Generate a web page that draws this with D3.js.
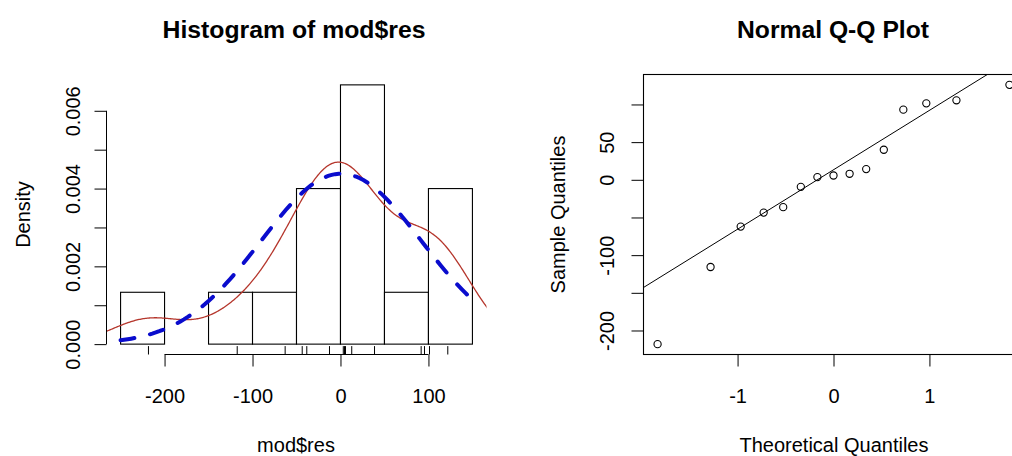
<!DOCTYPE html>
<html>
<head>
<meta charset="utf-8">
<script src="https://cdn.jsdelivr.net/npm/d3@7"></script>
<style>
body { margin: 0; background: #fff; }
svg text { font-family: "Liberation Sans", Arial, sans-serif; fill: #000; }
</style>
</head>
<body>
<svg id="chart" width="1012" height="456"></svg>
<script>
// residuals (sorted)
var residuals = [-218.1, -115.7, -62.1, -43.5, -36.3, -9.3, 3.6, 5.7, 8.0, 14.2, 39.9, 93.1, 101.5, 105.5, 126.0];
// rug marks as they sit under the histogram (jittered copy)
var rugValues = [-218.3, -117.4, -62.9, -43.5, -38.3, -12.5, 3.2, 4.6, 5.7, 12.8, 38.7, 91.7, 95.5, 101.2, 122.0];
var breaks = [-250, -200, -150, -100, -50, 0, 50, 100, 150];
var histXTicks = [-200, -100, 0, 100];
var histYTicks = [0, 0.001, 0.002, 0.003, 0.004, 0.005, 0.006];
var histYLabels = [0, 0.002, 0.004, 0.006];
var qqXTicks = [-1, 0, 1];
var qqYTicks = [-200, -150, -100, -50, 0, 50, 100];
var qqYLabels = [-200, -100, 0, 50];

var svg = d3.select('#chart');
var n = residuals.length;

// plot regions (R style, 4% extension)
var p1 = {left: 106.5, right: 486.5, top: 74.5, bottom: 354.5};
var p2 = {left: 643.5, right: 1023.5, top: 74.5, bottom: 354.5};
function extend(lo, hi) { var d = (hi - lo) * 0.04; return [lo - d, hi + d]; }

// inverse normal cdf (Acklam)
function qnorm(p) {
	var a = [-3.969683028665376e+01, 2.209460984245205e+02, -2.759285104469687e+02, 1.383577518672690e+02, -3.066479806614716e+01, 2.506628277459239e+00];
	var b = [-5.447609879822406e+01, 1.615858368580409e+02, -1.556989798598866e+02, 6.680131188771972e+01, -1.328068155288572e+01];
	var c = [-7.784894002430293e-03, -3.223964580411365e-01, -2.400758277161838e+00, -2.549732539343734e+00, 4.374664141464968e+00, 2.938163982698783e+00];
	var d = [7.784695709041462e-03, 3.224671290700398e-01, 2.445134137142996e+00, 3.754408661907416e+00];
	var pl = 0.02425, q, r;
	if (p < pl) {
		q = Math.sqrt(-2 * Math.log(p));
		return (((((c[0]*q+c[1])*q+c[2])*q+c[3])*q+c[4])*q+c[5]) / ((((d[0]*q+d[1])*q+d[2])*q+d[3])*q+1);
	}
	if (p > 1 - pl) {
		q = Math.sqrt(-2 * Math.log(1 - p));
		return -(((((c[0]*q+c[1])*q+c[2])*q+c[3])*q+c[4])*q+c[5]) / ((((d[0]*q+d[1])*q+d[2])*q+d[3])*q+1);
	}
	q = p - 0.5; r = q * q;
	return (((((a[0]*r+a[1])*r+a[2])*r+a[3])*r+a[4])*r+a[5])*q / (((((b[0]*r+b[1])*r+b[2])*r+b[3])*r+b[4])*r+1);
}
function gauss(z) { return Math.exp(-0.5 * z * z) / Math.sqrt(2 * Math.PI); }

//----------- Histogram ------------------------------------

// right-closed bins like R
var bins = [];
for (var i = 0; i < breaks.length - 1; i++) {
	var lo = breaks[i], hi = breaks[i + 1];
	var cnt = residuals.filter(function(v) { return v > lo && v <= hi; }).length;
	bins.push({x0: lo, x1: hi, density: cnt / (n * (hi - lo))});
}
var maxDens = d3.max(bins, function(d) { return d.density; });

var x1 = d3.scaleLinear().domain(extend(breaks[0], breaks[breaks.length - 1])).range([p1.left, p1.right]);
var y1 = d3.scaleLinear().domain(extend(0, maxDens)).range([p1.bottom, p1.top]);

svg.append('clipPath').attr('id', 'clip1')
	.append('rect').attr('x', p1.left).attr('y', p1.top)
	.attr('width', p1.right - p1.left).attr('height', p1.bottom - p1.top);

svg.append('g').selectAll('rect')
	.data(bins)
	.enter().append('rect')
	.attr('x', function(d) { return x1(d.x0); })
	.attr('y', function(d) { return y1(d.density); })
	.attr('width', function(d) { return x1(d.x1) - x1(d.x0); })
	.attr('height', function(d) { return y1(0) - y1(d.density); })
	.attr('fill', '#fff')
	.attr('stroke', '#000')
	.attr('stroke-width', 1.1);

// kernel density (bw.nrd0)
var mean = d3.mean(residuals), sd = d3.deviation(residuals);
var iqr = d3.quantile(residuals, 0.75) - d3.quantile(residuals, 0.25);
var bw = 0.9 * Math.min(sd, iqr / 1.34) * Math.pow(n, -0.2);
var kLo = d3.min(residuals) - 3 * bw, kHi = d3.max(residuals) + 3 * bw;
var kde = d3.range(512).map(function(k) {
	var x = kLo + (kHi - kLo) * k / 511;
	var s = d3.sum(residuals, function(v) { return gauss((x - v) / bw); });
	return [x, s / (n * bw)];
});

// normal curve over the breaks range
var normCurve = d3.range(101).map(function(k) {
	var x = breaks[0] + (breaks[breaks.length - 1] - breaks[0]) * k / 100;
	return [x, gauss((x - mean) / sd) / sd];
});

var line1 = d3.line()
	.x(function(d) { return x1(d[0]); })
	.y(function(d) { return y1(d[1]); });

var curves = svg.append('g').attr('clip-path', 'url(#clip1)');
curves.append('path')
	.attr('d', line1(kde))
	.attr('fill', 'none')
	.attr('stroke', '#b5362c')
	.attr('stroke-width', 1.3);
curves.append('path')
	.attr('d', line1(normCurve))
	.attr('fill', 'none')
	.attr('stroke', '#0a0ccd')
	.attr('stroke-width', 4)
	.attr('stroke-linecap', 'round')
	.attr('stroke-dasharray', '14,16');

// rug
svg.append('g').selectAll('line')
	.data(rugValues)
	.enter().append('line')
	.attr('x1', function(d) { return x1(d); })
	.attr('x2', function(d) { return x1(d); })
	.attr('y1', p1.bottom)
	.attr('y2', p1.bottom - 0.03 * (p1.bottom - p1.top))
	.attr('stroke', '#000')
	.attr('stroke-width', 1);

// axes
var xAxis1 = svg.append('g')
	.attr('transform', 'translate(0,' + p1.bottom + ')')
	.call(d3.axisBottom(x1).tickValues(histXTicks).tickSize(12).tickFormat(function(d) { return String(d); }));
xAxis1.select('.domain').remove();
xAxis1.append('line').attr('x1', x1(histXTicks[0])).attr('x2', x1(histXTicks[histXTicks.length - 1]))
	.attr('stroke', '#000');
xAxis1.selectAll('.tick text').attr('y', 48.5).attr('dy', null).style('font-size', '20px');

var yAxis1 = svg.append('g')
	.attr('transform', 'translate(' + p1.left + ',0)')
	.call(d3.axisLeft(y1).tickValues(histYTicks).tickSize(12)
		.tickFormat(function(d) { return histYLabels.indexOf(d) >= 0 ? d3.format('.3f')(d) : ''; }));
yAxis1.select('.domain').remove();
yAxis1.append('line').attr('y1', y1(histYTicks[0])).attr('y2', y1(histYTicks[histYTicks.length - 1]))
	.attr('stroke', '#000');
yAxis1.selectAll('.tick text')
	.attr('x', 0).attr('y', 0).attr('dy', null)
	.attr('text-anchor', 'middle')
	.attr('transform', 'translate(-27,0) rotate(-90)')
	.style('font-size', '20px');

// titles and labels
svg.append('text')
	.attr('x', 294).attr('y', 38)
	.attr('text-anchor', 'middle')
	.attr('textLength', 263).attr('lengthAdjust', 'spacingAndGlyphs')
	.style('font-size', '23px').style('font-weight', 'bold')
	.text('Histogram of mod$res');
svg.append('text')
	.attr('x', 296).attr('y', 452)
	.attr('text-anchor', 'middle')
	.style('font-size', '20px')
	.text('mod$res');
svg.append('text')
	.attr('transform', 'translate(30,' + ((p1.top + p1.bottom) / 2) + ') rotate(-90)')
	.attr('text-anchor', 'middle')
	.style('font-size', '20px')
	.text('Density');

//----------- Normal Q-Q plot ------------------------------------

var theo = residuals.map(function(v, i) { return qnorm((i + 1 - 0.5) / n); });
var qq = residuals.map(function(v, i) { return [theo[i], v]; });

var x2 = d3.scaleLinear().domain(extend(d3.min(theo), d3.max(theo))).range([p2.left, p2.right]);
var y2 = d3.scaleLinear().domain(extend(d3.min(residuals), d3.max(residuals))).range([p2.bottom, p2.top]);

svg.append('clipPath').attr('id', 'clip2')
	.append('rect').attr('x', p2.left).attr('y', p2.top)
	.attr('width', p2.right - p2.left).attr('height', p2.bottom - p2.top);

// qqline through the quartiles
var q1 = d3.quantile(residuals, 0.25), q3 = d3.quantile(residuals, 0.75);
var slope = (q3 - q1) / (qnorm(0.75) - qnorm(0.25));
var inter = q1 - slope * qnorm(0.25);
var xd = x2.domain();
svg.append('line')
	.attr('clip-path', 'url(#clip2)')
	.attr('x1', x2(xd[0])).attr('y1', y2(inter + slope * xd[0]))
	.attr('x2', x2(xd[1])).attr('y2', y2(inter + slope * xd[1]))
	.attr('stroke', '#000')
	.attr('stroke-width', 1);

svg.append('g').attr('clip-path', 'url(#clip2)').selectAll('circle')
	.data(qq)
	.enter().append('circle')
	.attr('cx', function(d) { return x2(d[0]); })
	.attr('cy', function(d) { return y2(d[1]); })
	.attr('r', 3.6)
	.attr('fill', 'none')
	.attr('stroke', '#000')
	.attr('stroke-width', 1.1);

svg.append('rect')
	.attr('x', p2.left).attr('y', p2.top)
	.attr('width', p2.right - p2.left).attr('height', p2.bottom - p2.top)
	.attr('fill', 'none').attr('stroke', '#000').attr('stroke-width', 1.1);

var xAxis2 = svg.append('g')
	.attr('transform', 'translate(0,' + p2.bottom + ')')
	.call(d3.axisBottom(x2).tickValues(qqXTicks).tickSize(12).tickFormat(function(d) { return String(d); }));
xAxis2.select('.domain').remove();
xAxis2.selectAll('.tick text').attr('y', 48.5).attr('dy', null).style('font-size', '20px');

var yAxis2 = svg.append('g')
	.attr('transform', 'translate(' + p2.left + ',0)')
	.call(d3.axisLeft(y2).tickValues(qqYTicks).tickSize(12)
		.tickFormat(function(d) { return qqYLabels.indexOf(d) >= 0 ? String(d) : ''; }));
yAxis2.select('.domain').remove();
yAxis2.selectAll('.tick text')
	.attr('x', 0).attr('y', 0).attr('dy', null)
	.attr('text-anchor', 'middle')
	.attr('transform', 'translate(-30,0) rotate(-90)')
	.style('font-size', '20px');

svg.append('text')
	.attr('x', 833).attr('y', 38)
	.attr('text-anchor', 'middle')
	.attr('textLength', 192).attr('lengthAdjust', 'spacingAndGlyphs')
	.style('font-size', '23px').style('font-weight', 'bold')
	.text('Normal Q-Q Plot');
svg.append('text')
	.attr('x', 834).attr('y', 452)
	.attr('text-anchor', 'middle')
	.style('font-size', '20px')
	.text('Theoretical Quantiles');
svg.append('text')
	.attr('transform', 'translate(565,' + ((p2.top + p2.bottom) / 2) + ') rotate(-90)')
	.attr('text-anchor', 'middle')
	.style('font-size', '20px')
	.text('Sample Quantiles');
</script>
</body>
</html>
